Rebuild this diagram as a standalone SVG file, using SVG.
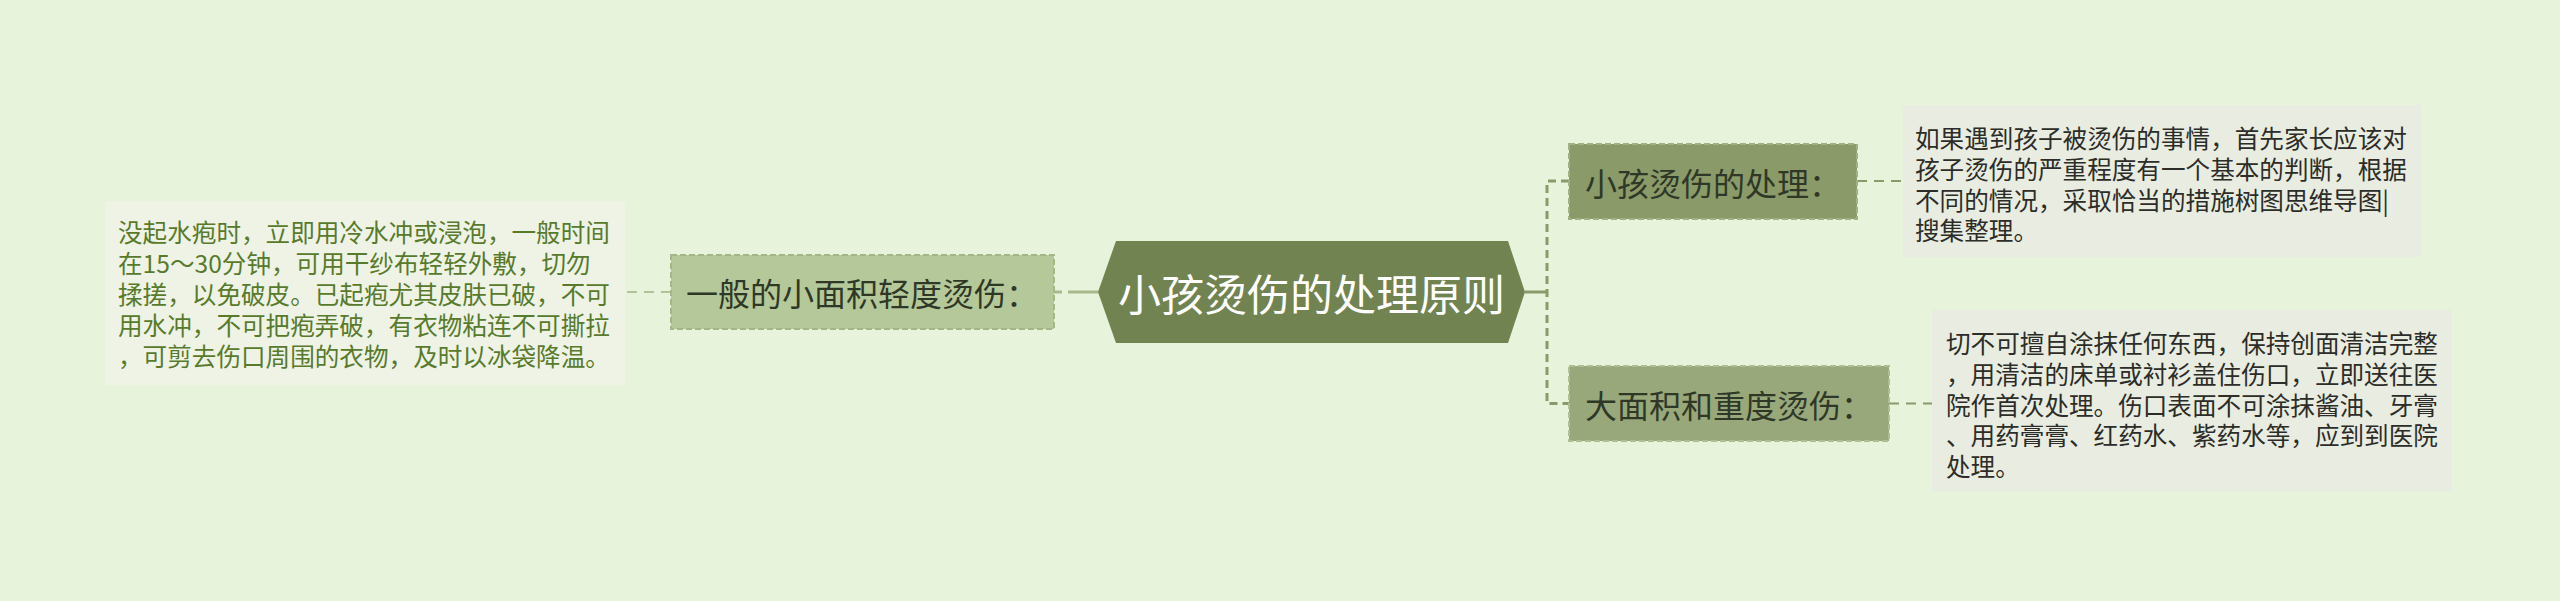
<svg xmlns="http://www.w3.org/2000/svg" width="2560" height="601" viewBox="0 0 2560 601">
<style>
text{font-family:"Noto Sans CJK SC","Noto Sans",sans-serif;dominant-baseline:central}
.c{stroke:#8a9a6a;stroke-width:3;fill:none}
.d{stroke:#8a9a6a;stroke-width:2;fill:none;stroke-dasharray:10 7}
.lt{stroke:#b2c296;stroke-width:2;fill:none;stroke-dasharray:10 7}
.nt{font-size:32px;fill:#2f3826}
.bt{font-size:24.6px;fill:#2c2c28}
.gt{font-size:24.6px;fill:#587a2b}
.nb{stroke-width:2;stroke-dasharray:6 3}
</style>
<rect width="2560" height="601" fill="#e7f4db"/>
<g id="connectors">
<path class="c" d="M1569,181 H1547 V403.5 H1569" stroke-dasharray="8 5"/>
<path class="c" d="M1525,292 H1547"/>
<path class="d" d="M1857,181 H1903"/>
<path class="d" d="M1889,403.5 H1932"/>
<path class="lt" d="M671,292 H625"/>
<path d="M1098,292 H1054" stroke="#a9b98b" stroke-width="3" fill="none" stroke-dasharray="30 6 8 100"/>
</g>
<g id="center">
<path d="M1098,292 L1116,241 L1508,241 L1525,292 L1508,343 L1116,343 Z" fill="#728352"/>
<text x="1311.5" y="292" font-size="43" fill="#ffffff" text-anchor="middle">小孩烫伤的处理原则</text>
</g>
<g id="node1">
<rect class="nb" x="1569" y="144" width="288" height="75" fill="#8a9a69" stroke="#a2b183"/>
<text class="nt" x="1585" y="181.5">小孩烫伤的处理：</text>
</g>
<g id="node1-detail">
<rect x="1903" y="105" width="518" height="152" fill="#e9ece1"/>
<text class="bt"><tspan x="1915" y="137">如果遇到孩子被烫伤的事情，首先家长应该对</tspan><tspan x="1915" y="168">孩子烫伤的严重程度有一个基本的判断，根据</tspan><tspan x="1915" y="198.5">不同的情况，采取恰当的措施树图思维导图|</tspan><tspan x="1915" y="229">搜集整理。</tspan></text>
</g>
<g id="node2">
<rect class="nb" x="1569" y="366" width="320" height="75" fill="#98a87b" stroke="#b0bf93"/>
<text class="nt" x="1585" y="403.5">大面积和重度烫伤：</text>
</g>
<g id="node2-detail">
<rect x="1932" y="310" width="520" height="182" fill="#e9ece1"/>
<text class="bt"><tspan x="1946" y="342">切不可擅自涂抹任何东西，保持创面清洁完整</tspan><tspan x="1946" y="372.5">，用清洁的床单或衬衫盖住伤口，立即送往医</tspan><tspan x="1946" y="403.5">院作首次处理。伤口表面不可涂抹酱油、牙膏</tspan><tspan x="1946" y="434">、用药膏膏、红药水、紫药水等，应到到医院</tspan><tspan x="1946" y="465">处理。</tspan></text>
</g>
<g id="node3">
<rect class="nb" x="671" y="255" width="383" height="74" fill="#b5c89a" stroke="#a3b787"/>
<text class="nt" x="686" y="292">一般的小面积轻度烫伤：</text>
</g>
<g id="node3-detail">
<rect x="105" y="201" width="520" height="184" fill="#eef3e6"/>
<text class="gt"><tspan x="118" y="231">没起水疱时，立即用冷水冲或浸泡，一般时间</tspan><tspan x="118" y="262">在15～30分钟，可用干纱布轻轻外敷，切勿</tspan><tspan x="118" y="293">揉搓，以免破皮。已起疱尤其皮肤已破，不可</tspan><tspan x="118" y="324">用水冲，不可把疱弄破，有衣物粘连不可撕拉</tspan><tspan x="118" y="355">，可剪去伤口周围的衣物，及时以冰袋降温。</tspan></text>
</g>
</svg>
